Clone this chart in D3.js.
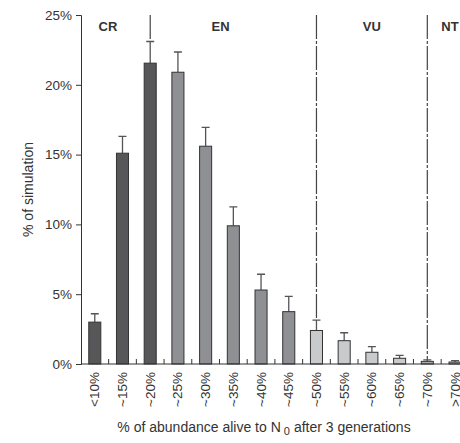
<!DOCTYPE html>
<html>
<head>
<meta charset="utf-8">
<script src="https://cdn.jsdelivr.net/npm/d3@7"></script>
<style>
  body { margin: 0; background: #fff; }
  text { font-family: "Liberation Sans", Arial, sans-serif; fill: #333; }
</style>
</head>
<body>
<svg id="chart" width="460" height="443"></svg>
<script>
// data
const categories = ["<10%", "~15%", "~20%", "~25%", "~30%", "~35%", "~40%", "~45%",
                    "~50%", "~55%", "~60%", "~65%", "~70%", ">70%"]
const values = [3.0, 15.1, 21.55, 20.9, 15.6, 9.9, 5.3, 3.75, 2.4, 1.67, 0.84, 0.41, 0.19, 0.14]
const errTops = [3.6, 16.3, 23.1, 22.35, 16.95, 11.25, 6.43, 4.85, 3.15, 2.24, 1.24, 0.62, 0.29, 0.24]
const groups = ["CR", "CR", "CR", "EN", "EN", "EN", "EN", "EN", "VU", "VU", "VU", "VU", "NT", "NT"]
const yTicks = [0, 5, 10, 15, 20, 25]
const classNames = ["CR", "EN", "VU", "NT"]
const classCenters = ["~15%", "~30%", "~60%", "~70%"]
const dividers = ["~20%", "~50%", "~70%"]

const colors = {CR: "#575759", EN: "#8f9094", VU: "#c9cacc", NT: "#a9aaad"}

const svg = d3.select("#chart")
const mLeft = 81, mTop = 15, mBottom = 364
const band = 27.7

const x = d3.scaleBand()
    .domain(categories)
    .range([mLeft, mLeft + band * categories.length])
    .paddingInner(0.565)
    .paddingOuter(0.28)

const y = d3.scaleLinear()
    .domain([0, 25])
    .range([mBottom, mTop])

// y axis
const yAxis = d3.axisLeft(y)
    .tickValues(yTicks)
    .tickFormat(d => d + "%")
    .tickSize(5)
    .tickPadding(4)
let gy = svg.append("g")
    .attr("transform", "translate(" + mLeft + ",0)")
    .call(yAxis)
gy.select(".domain").attr("stroke", "#333")
gy.selectAll(".tick line").attr("stroke", "#333")
gy.selectAll("text").style("font-size", "13.5px").attr("fill", "#333")

// dividers between the classes
svg.selectAll(".divider")
    .data(dividers)
    .enter().append("line")
    .attr("x1", d => x(d) + x.bandwidth() / 2)
    .attr("x2", d => x(d) + x.bandwidth() / 2)
    .attr("y1", y(25))
    .attr("y2", d => y(errTops[categories.indexOf(d)]))
    .attr("stroke", "#444")
    .attr("stroke-width", 1.2)
    .attr("stroke-dasharray", "24,2,3,2")

// error bars (up only)
svg.selectAll(".err")
    .data(categories)
    .enter().append("path")
    .attr("d", (d, i) => {
        let cx = x(d) + x.bandwidth() / 2
        return "M" + cx + "," + y(values[i]) + "V" + y(errTops[i]) +
               "M" + (cx - 4) + "," + y(errTops[i]) + "H" + (cx + 4)
    })
    .attr("stroke", "#555")
    .attr("stroke-width", 1.3)
    .attr("fill", "none")

// bars
svg.selectAll(".bar")
    .data(categories)
    .enter().append("rect")
    .attr("x", d => x(d))
    .attr("y", (d, i) => y(values[i]))
    .attr("width", x.bandwidth())
    .attr("height", (d, i) => mBottom - y(values[i]))
    .attr("fill", (d, i) => colors[groups[i]])
    .attr("stroke", "#333")
    .attr("stroke-width", 1)

// x axis with small inside ticks between bars
svg.append("line")
    .attr("x1", mLeft).attr("x2", 470)
    .attr("y1", mBottom).attr("y2", mBottom)
    .attr("stroke", "#333")
svg.selectAll(".xtick")
    .data(categories.slice(1))
    .enter().append("line")
    .attr("x1", d => x(d) - x.step() * x.paddingInner() / 2)
    .attr("x2", d => x(d) - x.step() * x.paddingInner() / 2)
    .attr("y1", mBottom)
    .attr("y2", mBottom - 5)
    .attr("stroke", "#333")

svg.selectAll(".xlab")
    .data(categories)
    .enter().append("text")
    .attr("transform", d => "translate(" + (x(d) + x.bandwidth() / 2 + 4.5) + "," + (mBottom + 8) + ") rotate(-90)")
    .attr("text-anchor", "end")
    .style("font-size", "13.5px")
    .text(d => d)

// class labels
svg.selectAll(".cls")
    .data(classNames)
    .enter().append("text")
    .attr("x", (d, i) => {
        if (d == "CR") return 108
        if (d == "NT") return 450
        return x(classCenters[i]) + x.bandwidth() / 2 + (d == "EN" ? 15 : 0)
    })
    .attr("y", 31)
    .attr("text-anchor", "middle")
    .style("font-size", "13px")
    .style("font-weight", "bold")
    .text(d => d)

// axis titles
svg.append("text")
    .attr("transform", "translate(33," + ((mTop + mBottom) / 2) + ") rotate(-90)")
    .attr("text-anchor", "middle")
    .style("font-size", "14px")
    .text("% of simulation")

let xt = svg.append("text")
    .attr("x", 264)
    .attr("y", 432)
    .attr("text-anchor", "middle")
    .style("font-size", "14px")
xt.append("tspan").text("% of abundance alive to N")
xt.append("tspan").attr("dy", 3).style("font-size", "11px").text(" 0")
xt.append("tspan").attr("dy", -3).text(" after 3 generations")
</script>
</body>
</html>
